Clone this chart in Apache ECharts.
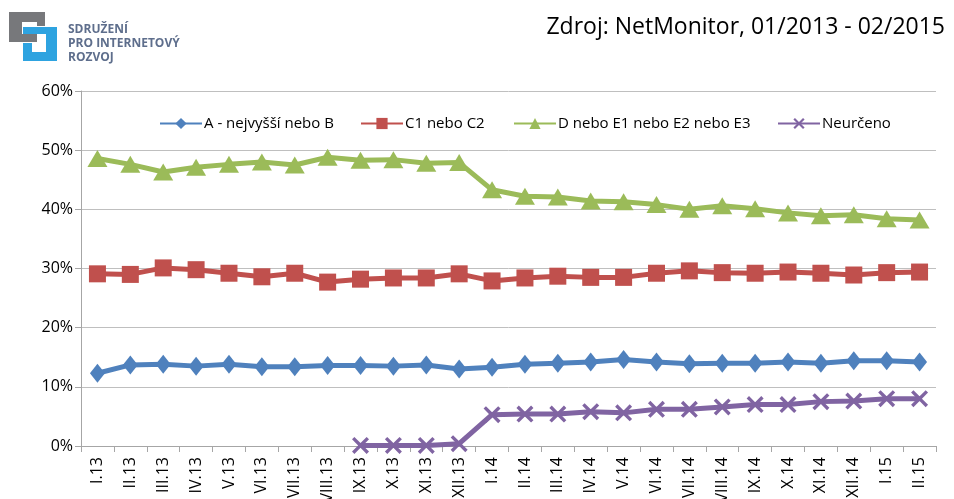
<!DOCTYPE html>
<html>
<head>
<meta charset="utf-8">
<script src="https://cdn.jsdelivr.net/npm/echarts@6/dist/echarts.min.js"></script>
<style>
  html, body { margin: 0; padding: 0; background: #fff; }
  #chart { width: 954px; height: 499px; }
</style>
</head>
<body>
<div id="chart"></div>
<script>
// měsíce I.13 - II.15
const months = ['I.13', 'II.13', 'III.13', 'IV.13', 'V.13', 'VI.13', 'VII.13', 'VIII.13', 'IX.13', 'X.13', 'XI.13', 'XII.13',
  'I.14', 'II.14', 'III.14', 'IV.14', 'V.14', 'VI.14', 'VII.14', 'VIII.14', 'IX.14', 'X.14', 'XI.14', 'XII.14',
  'I.15', 'II.15'];
const yTicks = [0, 10, 20, 30, 40, 50, 60];

// hodnoty v %
const seriesA = [12.3, 13.7, 13.8, 13.5, 13.8, 13.4, 13.4, 13.6, 13.6, 13.5, 13.7, 13.0,
  13.3, 13.8, 14.0, 14.2, 14.6, 14.2, 13.9, 14.0, 14.0, 14.2, 14.0, 14.4, 14.4, 14.2];
const seriesC = [29.1, 29.0, 30.1, 29.8, 29.2, 28.6, 29.2, 27.7, 28.2, 28.4, 28.4, 29.1,
  27.9, 28.4, 28.7, 28.5, 28.5, 29.2, 29.6, 29.3, 29.2, 29.4, 29.2, 28.9, 29.3, 29.4];
const seriesD = [48.6, 47.6, 46.3, 47.1, 47.6, 48.0, 47.5, 48.8, 48.3, 48.4, 47.8, 47.9,
  43.3, 42.2, 42.1, 41.4, 41.3, 40.8, 40.0, 40.6, 40.1, 39.4, 38.9, 39.1, 38.4, 38.2];
const seriesN = [null, null, null, null, null, null, null, null, 0.1, 0.1, 0.1, 0.4,
  5.3, 5.4, 5.4, 5.8, 5.6, 6.2, 6.2, 6.6, 7.0, 7.0, 7.5, 7.6, 8.0, 8.0];

const names = ['A - nejvyšší nebo B', 'C1 nebo C2', 'D nebo E1 nebo E2 nebo E3', 'Neurčeno'];
const colors = ['#4F81BD', '#C0504D', '#9BBB59', '#8064A2'];

const crossPath = 'path://M0,1.4 L1.4,0 L5,3.6 L8.6,0 L10,1.4 L6.4,5 L10,8.6 L8.6,10 L5,6.4 L1.4,10 L0,8.6 L3.6,5 Z';
const fontFamily = 'Open Sans, Liberation Sans, sans-serif';

const myChart = echarts.init(document.getElementById('chart'));

function makeSeries(name, data, color, symbol, size) {
  return {
    name: name,
    type: 'line',
    data: data,
    symbol: symbol,
    symbolSize: size,
    showAllSymbol: true,
    connectNulls: false,
    lineStyle: { width: 5, color: color },
    itemStyle: { color: color },
    emphasis: { disabled: true },
  };
}

// jedna legenda pro každou řadu, ať sedí pozice
const legendLeft = [154, 355, 508, 772];
const legends = names.map((n, i) => ({
  left: legendLeft[i],
  top: 111,
  itemWidth: 42,
  itemHeight: 14,
  textStyle: { fontSize: 15, color: '#000', padding: [0, 0, 0, -3] },
  data: [n],
}));

myChart.setOption({
  animation: false,
  textStyle: { fontFamily: fontFamily },
  // outerBoundsMode none -> popisky osy x přetékají dolů jako v originále
  grid: { left: 81, right: 18, top: 91, bottom: 53, containLabel: false, outerBoundsMode: 'none' },
  title: {
    text: 'Zdroj: NetMonitor, 01/2013 - 02/2015',
    right: 4,
    top: 11,
    textStyle: { fontSize: 23, fontWeight: 'normal', color: '#000', fontFamily: fontFamily },
  },
  legend: legends,
  xAxis: {
    type: 'category',
    data: months,
    boundaryGap: true,
    axisLine: { lineStyle: { color: '#A6A6A6' } },
    axisTick: { show: true, length: 6, interval: 0, lineStyle: { color: '#A6A6A6' } },
    axisLabel: { interval: 0, rotate: 90, margin: 11, fontSize: 16, color: '#000' },
  },
  yAxis: {
    type: 'value',
    min: yTicks[0],
    max: yTicks[yTicks.length - 1],
    interval: 10,
    axisLine: { show: true, lineStyle: { color: '#A6A6A6' } },
    axisTick: { show: true, length: 6, lineStyle: { color: '#A6A6A6' } },
    axisLabel: { formatter: '{value}%', fontSize: 16, color: '#000', margin: 8 },
    splitLine: { lineStyle: { color: '#BFBFBF', width: 1 } },
  },
  graphic: [
    // logo SPIR
    { type: 'rect', shape: { x: 9, y: 12, width: 36, height: 10 }, style: { fill: '#77787B' } },
    { type: 'rect', shape: { x: 9, y: 12, width: 13, height: 30 }, style: { fill: '#77787B' } },
    { type: 'rect', shape: { x: 9, y: 34, width: 28, height: 8 }, style: { fill: '#77787B' } },
    { type: 'rect', shape: { x: 37, y: 12, width: 8, height: 14 }, style: { fill: '#77787B' } },
    { type: 'rect', shape: { x: 23, y: 27, width: 34, height: 7 }, style: { fill: '#2EA3E0' } },
    { type: 'rect', shape: { x: 46, y: 27, width: 11, height: 34 }, style: { fill: '#2EA3E0' } },
    { type: 'rect', shape: { x: 23, y: 52, width: 34, height: 9 }, style: { fill: '#2EA3E0' } },
    { type: 'rect', shape: { x: 23, y: 43, width: 9, height: 18 }, style: { fill: '#2EA3E0' } },
    {
      type: 'text', left: 68, top: 23,
      style: { text: 'SDRUŽENÍ\nPRO INTERNETOVÝ\nROZVOJ', fill: '#5E6E8C', font: 'bold 12px ' + fontFamily, lineHeight: 14 },
    },
  ],
  series: [
    makeSeries(names[0], seriesA, colors[0], 'diamond', [15, 19]),
    makeSeries(names[1], seriesC, colors[1], 'rect', [17, 17]),
    makeSeries(names[2], seriesD, colors[2], 'triangle', [20, 17]),
    makeSeries(names[3], seriesN, colors[3], crossPath, [17, 17]),
  ],
});
</script>
</body>
</html>
